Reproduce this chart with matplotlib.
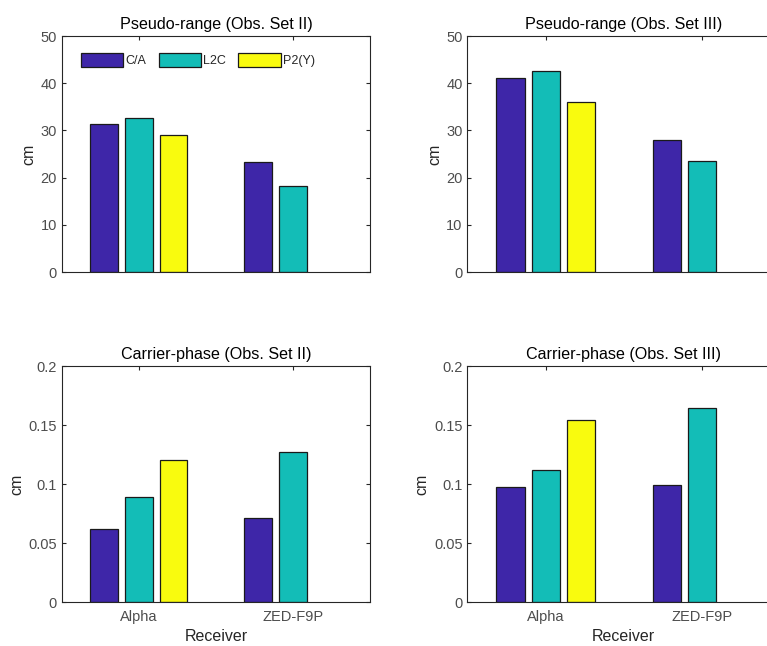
import numpy as np
import matplotlib.pyplot as plt

plt.rcParams['font.family'] = ['Liberation Sans', 'DejaVu Sans']

receivers = ['Alpha', 'ZED-F9P']
signals = ['C/A', 'L2C', 'P2(Y)']
colors = ['#3e26a8', '#13bdb7', '#f9fb0e']

# rows: receivers, cols: signals (ZED-F9P has no P2(Y))
pr_set2 = [[31.3, 32.7, 29.0], [23.3, 18.2, np.nan]]
pr_set3 = [[41.1, 42.5, 36.0], [28.0, 23.6, np.nan]]
cp_set2 = [[0.062, 0.089, 0.120], [0.071, 0.127, np.nan]]
cp_set3 = [[0.0975, 0.112, 0.1545], [0.099, 0.1645, np.nan]]

ink = '#262626'
tick_col = '#4d4d4d'


def grouped_bars(ax, data, title, ylim, yticks, show_x=False):
    data = np.array(data)
    x = np.arange(1, len(receivers) + 1)
    offsets = [-0.225, 0.0, 0.225]
    for j, name in enumerate(signals):
        ax.bar(x + offsets[j], data[:, j], width=0.18, color=colors[j],
               edgecolor='#1a1a1a', linewidth=0.9, label=name, zorder=2)
    ax.set_xlim(0.5, 2.5)
    ax.set_ylim(*ylim)
    ax.set_yticks(yticks)
    ax.set_yticklabels(['%g' % t for t in yticks])
    ax.set_xticks(x)
    if show_x:
        ax.set_xticklabels(receivers)
        ax.set_xlabel('Receiver', fontsize=11.5, color=ink, labelpad=3)
    else:
        ax.set_xticklabels([])
    ax.set_ylabel('cm', fontsize=11.5, color=ink, labelpad=3)
    ax.set_title(title, fontsize=11.6, color='black', pad=5)
    ax.tick_params(direction='in', top=True, right=True, length=3,
                   width=0.8, colors=ink, labelcolor=tick_col, labelsize=10.5)
    ax.tick_params(axis='x', pad=6)
    for sp in ax.spines.values():
        sp.set_color(ink)
        sp.set_linewidth(0.8)


fig = plt.figure(figsize=(7.67, 6.46), dpi=100)
w = 0.4016
h = 0.3653
ax1 = fig.add_axes([0.0808, 0.5789, w, h])
ax2 = fig.add_axes([0.6095, 0.5789, 0.4074, h])
ax3 = fig.add_axes([0.0808, 0.0681, w, h])
ax4 = fig.add_axes([0.6095, 0.0681, 0.4074, h])

grouped_bars(ax1, pr_set2, 'Pseudo-range (Obs. Set II)', (0, 50), [0, 10, 20, 30, 40, 50])
grouped_bars(ax2, pr_set3, 'Pseudo-range (Obs. Set III)', (0, 50), [0, 10, 20, 30, 40, 50])
grouped_bars(ax3, cp_set2, 'Carrier-phase (Obs. Set II)', (0, 0.2), [0, 0.05, 0.1, 0.15, 0.2], True)
grouped_bars(ax4, cp_set3, 'Carrier-phase (Obs. Set III)', (0, 0.2), [0, 0.05, 0.1, 0.15, 0.2], True)

ax1.legend(loc='upper left', ncol=3, frameon=False, fontsize=9,
           handlelength=3.4, handleheight=1.35, handletextpad=0.15,
           columnspacing=1.0, bbox_to_anchor=(0.025, 0.975),
           labelcolor=ink)

fig.savefig('out.png', dpi=100)
